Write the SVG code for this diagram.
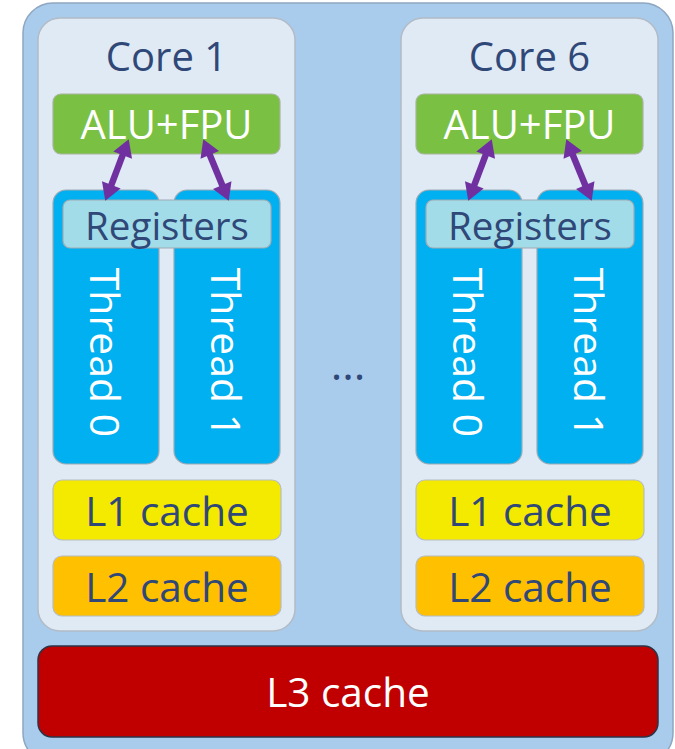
<svg xmlns="http://www.w3.org/2000/svg" width="675" height="749" viewBox="0 0 675 749">
  <style>
    text { font-family: "Open Sans", "Noto Sans", "Liberation Sans", sans-serif; text-anchor: middle; }
    .dark { fill: #2f4878; }
    .light { fill: #ffffff; }
    .core { fill: #dfeaf4; stroke: #b3bcc6; stroke-width: 1.5; }
    .alu { fill: #7ac143; stroke: #a9b4a0; stroke-width: 1.2; }
    .thread { fill: #00b0f0; stroke: #a0aab4; stroke-width: 1.2; }
    .regs { fill: #a2dce8; stroke: #a0aab4; stroke-width: 1.2; }
    .l1 { fill: #f4ea00; stroke: #b8bcc0; stroke-width: 1.2; }
    .l2 { fill: #ffc000; stroke: #b8bcc0; stroke-width: 1.2; }
    .link { stroke: #7030a0; stroke-width: 6.5; fill: none; marker-start: url(#head); marker-end: url(#head); }
  </style>
  <defs>
    <marker id="head" markerUnits="userSpaceOnUse" markerWidth="22" markerHeight="24" viewBox="0 -12 20 24" refX="2" refY="0" orient="auto-start-reverse">
      <path d="M0,-10 L17,0 L0,10 Z" fill="#7030a0"/>
    </marker>
  </defs>

  <rect width="675" height="749" fill="#ffffff"/>

  <!-- processor package -->
  <g id="cpu">
    <rect x="23" y="3" width="650" height="760" rx="30" fill="#a9cbec" stroke="#8fa6c0" stroke-width="1.5"/>
  </g>

  <!-- core 1 -->
  <g id="core1">
    <rect class="core" x="38" y="18" width="257" height="613" rx="22"/>
    <text class="dark" x="166.5" y="71" font-size="40">Core 1</text>
  </g>
  <g id="core1-alu">
    <rect class="alu" x="53" y="94" width="227" height="60" rx="8"/>
    <text class="light" x="166.5" y="139" font-size="40">ALU+FPU</text>
  </g>
  <g id="core1-thread0">
    <rect class="thread" x="53" y="190" width="106" height="274" rx="13"/>
    <text class="light" font-size="41" transform="translate(90 352.5) rotate(90)">Thread 0</text>
  </g>
  <g id="core1-thread1">
    <rect class="thread" x="174" y="190" width="106" height="274" rx="13"/>
    <text class="light" font-size="41" transform="translate(211 352.5) rotate(90)">Thread 1</text>
  </g>
  <g id="core1-registers">
    <rect class="regs" x="63" y="200" width="208" height="48" rx="7"/>
    <text class="dark" x="167" y="240" font-size="38.5">Registers</text>
  </g>
  <g id="core1-l1">
    <rect class="l1" x="53" y="480" width="228" height="60" rx="9"/>
    <text class="dark" x="167" y="526" font-size="40.5">L1 cache</text>
  </g>
  <g id="core1-l2">
    <rect class="l2" x="53" y="556" width="228" height="60" rx="9"/>
    <text class="dark" x="167" y="602" font-size="40.5">L2 cache</text>
  </g>

  <!-- cores in between -->
  <g id="ellipsis">
    <text class="dark" x="348" y="380" font-size="44" fill="#3f4b60">...</text>
  </g>

  <!-- core 6 -->
  <g id="core6">
    <rect class="core" x="401" y="18" width="257" height="613" rx="22"/>
    <text class="dark" x="529.5" y="71" font-size="40">Core 6</text>
  </g>
  <g id="core6-alu">
    <rect class="alu" x="416" y="94" width="227" height="60" rx="8"/>
    <text class="light" x="529.5" y="139" font-size="40">ALU+FPU</text>
  </g>
  <g id="core6-thread0">
    <rect class="thread" x="416" y="190" width="106" height="274" rx="13"/>
    <text class="light" font-size="41" transform="translate(453 352.5) rotate(90)">Thread 0</text>
  </g>
  <g id="core6-thread1">
    <rect class="thread" x="537" y="190" width="106" height="274" rx="13"/>
    <text class="light" font-size="41" transform="translate(574 352.5) rotate(90)">Thread 1</text>
  </g>
  <g id="core6-registers">
    <rect class="regs" x="426" y="200" width="208" height="48" rx="7"/>
    <text class="dark" x="530" y="240" font-size="38.5">Registers</text>
  </g>
  <g id="core6-l1">
    <rect class="l1" x="416" y="480" width="228" height="60" rx="9"/>
    <text class="dark" x="530" y="526" font-size="40.5">L1 cache</text>
  </g>
  <g id="core6-l2">
    <rect class="l2" x="416" y="556" width="228" height="60" rx="9"/>
    <text class="dark" x="530" y="602" font-size="40.5">L2 cache</text>
  </g>

  <!-- shared last-level cache -->
  <g id="l3">
    <rect x="38" y="646" width="620" height="91" rx="14" fill="#c00000" stroke="#2b3548" stroke-width="1.5"/>
    <text class="light" x="348" y="707" font-size="40.5">L3 cache</text>
  </g>

  <!-- ALU/FPU to register file links -->
  <g id="connectors">
    <line class="link" x1="123.4" y1="153.2" x2="110.6" y2="186.8"/>
    <line class="link" x1="209.0" y1="153.0" x2="223.0" y2="187.0"/>
    <line class="link" x1="486.4" y1="153.2" x2="473.6" y2="186.8"/>
    <line class="link" x1="572.0" y1="153.0" x2="586.0" y2="187.0"/>
  </g>
</svg>
